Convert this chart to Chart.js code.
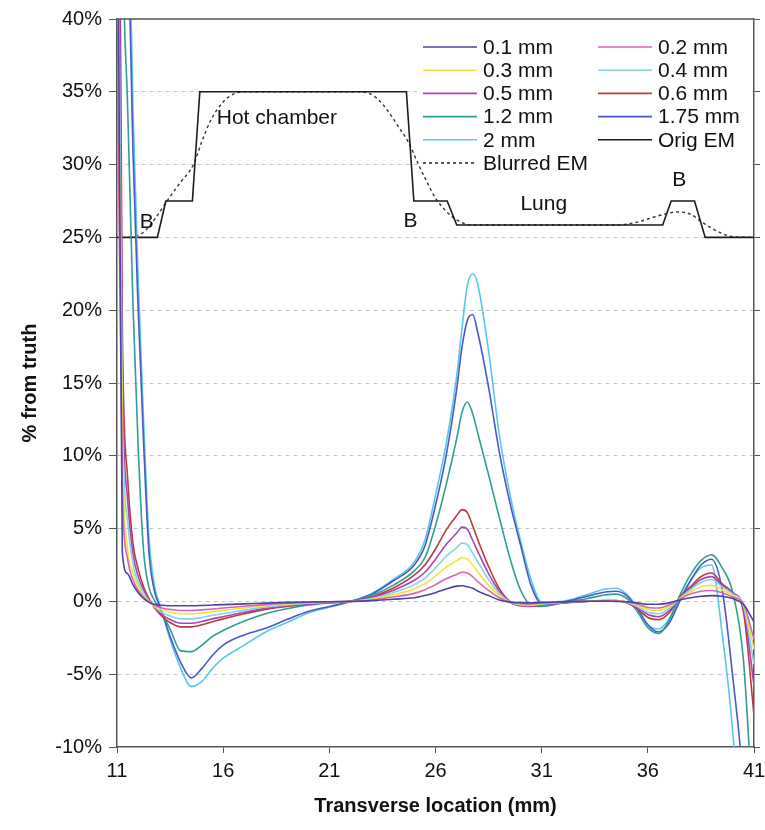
<!DOCTYPE html>
<html>
<head>
<meta charset="utf-8">
<script src="https://cdn.jsdelivr.net/npm/chart.js@4.4.0/dist/chart.umd.min.js"></script>
<style>
  html, body { margin: 0; padding: 0; background: #fff; }
  #wrap { width: 765px; height: 830px; }
</style>
</head>
<body>
<div id="wrap"><canvas id="chart"></canvas></div>
<script>
// transverse positions (mm) shared by the nine resolution series
const positions = [
  11, 11.25, 11.5, 11.75, 12, 12.25, 12.5, 12.75, 13, 13.25, 13.5,
  14, 14.5, 15, 15.5, 16, 17, 18, 19, 20, 21, 22,
  23, 24, 25, 25.5, 26, 26.5, 27, 27.25, 27.5, 27.75, 28,
  28.5, 29, 29.5, 30, 30.5, 31, 32, 33, 34, 34.5, 35,
  35.5, 36, 36.5, 37, 37.5, 38, 38.5, 39, 39.5, 40, 40.5, 41
];

// % from truth for each resolution
const res01 = [
  60, 3.4, 1.9, 1.15, 0.6, 0.2, -0.05, -0.2, -0.25, -0.28, -0.3,
  -0.3, -0.3, -0.28, -0.25, -0.22, -0.17, -0.12, -0.07, -0.04, -0.02, 0,
  0.05, 0.15, 0.25, 0.4, 0.6, 0.85, 1.05, 1.07, 1.0, 0.9, 0.7,
  0.4, 0.1, -0.05, -0.08, -0.1, -0.08, -0.03, 0, 0.02, 0, -0.02,
  -0.1, -0.2, -0.2, -0.1, 0.1, 0.25, 0.35, 0.4, 0.35, 0.2, -0.2, -1.4
];
const res02 = [
  40, 8, 2.9, 1.5, 0.75, 0.3, -0.05, -0.25, -0.4, -0.5, -0.55,
  -0.63, -0.63, -0.58, -0.52, -0.45, -0.33, -0.22, -0.13, -0.07, -0.03, 0,
  0.1, 0.3, 0.55, 0.8, 1.15, 1.55, 1.85, 2.0, 1.95, 1.7, 1.35,
  0.75, 0.25, -0.05, -0.15, -0.17, -0.12, -0.05, 0, 0.03, 0.03, -0.03,
  -0.18, -0.42, -0.45, -0.25, 0.15, 0.5, 0.7, 0.75, 0.6, 0.3, -0.15, -2.6
];
const res03 = [
  50, 11, 3.6, 2.0, 1.0, 0.4, 0, -0.3, -0.5, -0.65, -0.75,
  -0.85, -0.85, -0.8, -0.7, -0.62, -0.45, -0.3, -0.18, -0.1, -0.04, 0,
  0.15, 0.45, 0.85, 1.2, 1.75, 2.35, 2.8, 3.0, 2.9, 2.5, 2.0,
  1.1, 0.4, -0.05, -0.2, -0.22, -0.15, -0.06, 0, 0.05, 0.05, -0.04,
  -0.25, -0.55, -0.62, -0.35, 0.2, 0.65, 1.0, 1.1, 0.8, 0.4, -0.2, -3.3
];
const res04 = [
  60, 13, 5.5, 2.6, 1.3, 0.55, 0.05, -0.35, -0.65, -0.85, -1.0,
  -1.2, -1.2, -1.1, -0.95, -0.85, -0.6, -0.38, -0.24, -0.13, -0.05, 0,
  0.2, 0.6, 1.15, 1.6, 2.3, 3.1, 3.7, 4.0, 3.9, 3.3, 2.7,
  1.5, 0.55, -0.05, -0.25, -0.28, -0.2, -0.08, 0, 0.05, 0.05, -0.05,
  -0.35, -0.75, -0.85, -0.5, 0.2, 0.8, 1.3, 1.5, 1.0, 0.5, -0.3, -4.3
];
const res05 = [
  70, 16, 7, 3.3, 1.7, 0.8, 0.15, -0.35, -0.75, -1.05, -1.25,
  -1.5, -1.5, -1.38, -1.2, -1.05, -0.75, -0.48, -0.3, -0.17, -0.07, 0,
  0.25, 0.75, 1.45, 2.0, 2.9, 3.9, 4.7, 5.1, 4.95, 4.2, 3.4,
  1.9, 0.7, -0.05, -0.3, -0.3, -0.22, -0.1, 0, 0.05, 0.05, -0.08,
  -0.4, -0.9, -1.05, -0.65, 0.2, 0.9, 1.5, 1.7, 1.1, 0.6, -0.4, -5.8
];
const res06 = [
  80, 19, 8.5, 4.0, 2.2, 1.0, 0.2, -0.4, -0.85, -1.2, -1.45,
  -1.75, -1.75, -1.6, -1.4, -1.2, -0.85, -0.55, -0.35, -0.2, -0.08, 0,
  0.3, 0.9, 1.8, 2.5, 3.6, 4.9, 5.9, 6.3, 6.1, 5.2, 4.2,
  2.4, 0.9, 0, -0.3, -0.35, -0.25, -0.1, 0, 0.05, 0.05, -0.1,
  -0.5, -1.1, -1.25, -0.8, 0.3, 1.0, 1.7, 1.95, 1.2, 0.6, -0.7, -7.8
];
const res12 = [
  120, 50, 34, 20.5, 10.5, 3.5, 1.0, 0.1, -0.5, -1.2, -1.9,
  -3.4, -3.45, -3.0, -2.4, -2.0, -1.35, -0.85, -0.5, -0.25, -0.1, 0,
  0.4, 1.1, 2.1, 3.0, 5.2, 8.0, 11.2, 13.0, 13.7, 12.9, 11.5,
  8.7, 5.8, 3.0, 0.8, -0.25, -0.35, -0.1, 0.15, 0.45, 0.5, 0.2,
  -0.7, -1.8, -2.2, -1.3, 0.4, 1.8, 2.8, 3.2, 2.3, 0.6, -4.0, -16
];
const res175 = [
  200, 70, 48, 31, 20, 11, 3.5, 0.8, -0.3, -1.3, -2.4,
  -4.2, -5.25, -4.6, -3.7, -3.0, -2.3, -1.85, -1.25, -0.7, -0.35, 0,
  0.5, 1.4, 2.5, 3.8, 6.6, 10.0, 14.6, 17.5, 19.3, 19.7, 18.4,
  14.7, 10.3, 6.8, 3.9, 1.1, -0.15, -0.05, 0.3, 0.65, 0.7, 0.4,
  -0.5, -1.6, -2.1, -1.5, 0.0, 1.4, 2.5, 2.9, 0.8, -5.2, -13, -30
];
const res20 = [
  220, 80, 52, 34, 22, 12.5, 4.5, 1.2, -0.2, -1.4, -2.6,
  -4.6, -5.85, -5.5, -4.6, -3.9, -3.0, -2.1, -1.45, -0.8, -0.4, 0,
  0.55, 1.5, 2.7, 4.2, 7.3, 10.8, 15.5, 18.8, 21.7, 22.5, 21.7,
  17.2, 11.5, 7.4, 4.2, 1.5, -0.05, 0, 0.4, 0.85, 0.9, 0.5,
  -0.4, -1.6, -1.9, -1.2, 0.2, 1.4, 2.3, 2.5, -2.2, -9, -20, -50
];

// emission map profiles, drawn on the same scale
const origX = [11, 12.9, 13.3, 14.55, 14.9, 24.63, 24.98, 26.55, 27.0, 36.7, 37.1, 38.2, 38.7, 41];
const origY = [25, 25, 27.5, 27.5, 35, 35, 27.5, 27.5, 25.85, 25.85, 27.5, 27.5, 25, 25];
const blurX = [11.6, 12.2, 12.8, 13.4, 14.0, 14.6, 15.0, 15.4, 16.0, 16.5,
  17.0, 22.5, 23.2, 23.8, 24.3, 24.7, 25.2, 25.6, 26.0, 26.5,
  27.0, 27.7, 34.5, 35.5, 36.3, 36.8, 37.4, 38.0, 38.6, 39.3, 40.0, 41];
const blurY = [25.0, 25.3, 26.3, 27.6, 28.8, 30.0, 31.6, 33.0, 34.3, 34.85,
  35.0, 35.0, 34.6, 33.6, 32.5, 31.6, 30.0, 28.8, 27.7, 26.8,
  26.2, 25.85, 25.85, 26.05, 26.4, 26.6, 26.75, 26.6, 26.0, 25.4, 25.05, 25.0];

const seriesNames = ['0.1 mm', '0.2 mm', '0.3 mm', '0.4 mm', '0.5 mm', '0.6 mm', '1.2 mm', '1.75 mm', '2 mm'];
const seriesValues = [res01, res02, res03, res04, res05, res06, res12, res175, res20];
const seriesColors = ['#4646a6', '#d466b4', '#f2e33a', '#84d4e6', '#a845b5', '#b83c3c', '#2e9f91', '#4a58c8', '#58c6ee'];

const xTicks = [11, 16, 21, 26, 31, 36, 41];

const regionLabels = [
  { text: 'Hot chamber', x: 18.53, y: 33.2 },
  { text: 'B', x: 12.4, y: 26.05 },
  { text: 'B', x: 24.82, y: 26.1 },
  { text: 'Lung', x: 31.1, y: 27.3 },
  { text: 'B', x: 37.48, y: 28.9 }
];

const FONT = 'Liberation Sans, Arial, sans-serif';

let datasets = seriesNames.map((name, i) => ({
  label: name,
  data: positions.map((x, j) => ({ x: x, y: seriesValues[i][j] })),
  borderColor: seriesColors[i],
  borderWidth: 1.6,
  pointRadius: 0,
  cubicInterpolationMode: 'monotone',
  fill: false
}));
datasets.push({
  label: 'Orig EM',
  data: origX.map((x, j) => ({ x: x, y: origY[j] })),
  borderColor: '#1a1a1a',
  borderWidth: 1.6,
  pointRadius: 0,
  tension: 0,
  fill: false
});
datasets.push({
  label: 'Blurred EM',
  data: blurX.map((x, j) => ({ x: x, y: blurY[j] })),
  borderColor: '#333',
  borderWidth: 1.4,
  borderDash: [3, 3],
  pointRadius: 0,
  cubicInterpolationMode: 'monotone',
  fill: false
});

const overlay = {
  id: 'overlay',
  beforeDatasetsDraw(chart) {
    let ctx = chart.ctx, a = chart.chartArea;
    ctx.save();
    ctx.fillStyle = '#fff';
    ctx.fillRect(a.right - 337, a.top + 10, 335, 150);
    ctx.restore();
  },
  afterDatasetsDraw(chart) {
    let ctx = chart.ctx, a = chart.chartArea;
    let xs = chart.scales.x, ys = chart.scales.y;
    ctx.save();
    // top border
    ctx.strokeStyle = '#555';
    ctx.lineWidth = 1.5;
    ctx.beginPath();
    ctx.moveTo(a.left, a.top);
    ctx.lineTo(a.right, a.top);
    ctx.stroke();

    // region labels
    ctx.fillStyle = '#111';
    ctx.font = '21px ' + FONT;
    ctx.textAlign = 'center';
    ctx.textBaseline = 'middle';
    regionLabels.forEach(l => {
      ctx.fillText(l.text, xs.getPixelForValue(l.x), ys.getPixelForValue(l.y));
    });

    // legend, two columns
    ctx.textAlign = 'left';
    ctx.font = '21px ' + FONT;
    chart.data.datasets.forEach((ds, i) => {
      let col = i % 2, row = Math.floor(i / 2);
      let x0 = a.right - 331 + col * 175;
      let y0 = a.top + 28 + row * 23.2;
      ctx.strokeStyle = ds.borderColor;
      ctx.lineWidth = 1.6;
      ctx.setLineDash(ds.borderDash || []);
      ctx.beginPath();
      ctx.moveTo(x0, y0);
      ctx.lineTo(x0 + 54, y0);
      ctx.stroke();
      ctx.setLineDash([]);
      ctx.fillStyle = '#111';
      ctx.fillText(ds.label, x0 + 60, y0 + 1);
    });
    ctx.restore();
  }
};

let ctx = document.getElementById('chart').getContext('2d');
new Chart(ctx, {
  type: 'line',
  data: { datasets: datasets },
  plugins: [overlay],
  options: {
    responsive: true,
    maintainAspectRatio: false,
    animation: false,
    layout: { padding: { left: 14, right: 0, top: 17, bottom: 8 } },
    plugins: {
      legend: { display: false },
      tooltip: { enabled: false }
    },
    scales: {
      x: {
        type: 'linear',
        min: 11,
        max: 41,
        afterBuildTicks: s => { s.ticks = xTicks.map(v => ({ value: v })); },
        afterFit: s => { s.height = 75; s.paddingLeft = 0; s.paddingRight = 0; },
        grid: { drawOnChartArea: false, tickLength: 6, tickColor: '#555' },
        border: { color: '#555', width: 1.5 },
        ticks: { color: '#111', font: { family: FONT, size: 20 }, padding: 6, maxRotation: 0 },
        title: {
          display: true,
          text: 'Transverse location (mm)',
          color: '#111',
          font: { family: FONT, size: 20, weight: 'bold' }
        }
      },
      y: {
        min: -10,
        max: 40,
        afterFit: s => { s.width = 103; },
        ticks: {
          stepSize: 5,
          color: '#111',
          font: { family: FONT, size: 20 },
          padding: 7,
          callback: v => v + '%'
        },
        grid: {
          color: c => (c.tick && (c.tick.value === -10 || c.tick.value === 40)) ? 'rgba(0,0,0,0)' : '#c4c4c4',
          lineWidth: 1,
          tickLength: 8,
          tickColor: '#555'
        },
        border: { color: '#555', width: 1.5, dash: [4, 4] },
        title: {
          display: true,
          text: '% from truth',
          color: '#111',
          font: { family: FONT, size: 20, weight: 'bold' }
        }
      },
      y2: {
        position: 'right',
        min: -10,
        max: 40,
        afterFit: s => { s.width = 11; },
        ticks: { stepSize: 5, display: false },
        grid: { drawOnChartArea: false, tickLength: 6, tickColor: '#555' },
        border: { color: '#555', width: 1.5 }
      }
    }
  }
});
</script>
</body>
</html>
